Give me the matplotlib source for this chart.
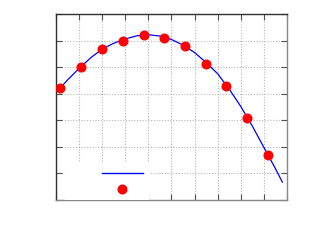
import matplotlib
matplotlib.use("Agg")
import matplotlib.pyplot as plt
from matplotlib.lines import Line2D

# measured points
pts_x = [0.17, 1.10, 1.99, 2.89, 3.79, 4.68, 5.59, 6.49, 7.38, 8.27, 9.19]
pts_y = [4.20, 5.01, 5.70, 6.00, 6.20, 6.10, 5.80, 5.11, 4.30, 3.10, 1.70]

# fitted curve
fit_x = [0.1, 0.5, 1.0, 1.5, 2.0, 2.5, 3.0, 3.5, 4.0, 4.5, 5.0, 5.5, 6.0,
         6.5, 7.0, 7.5, 8.0, 8.5, 9.0, 9.5, 9.8]
fit_y = [4.13, 4.52, 4.95, 5.35, 5.68, 5.90, 6.06, 6.18, 6.22, 6.17, 6.04,
         5.83, 5.55, 5.17, 4.75, 4.17, 3.52, 2.78, 1.98, 1.18, 0.67]

x_ticks = list(range(0, 11))
y_ticks = list(range(0, 8))

fig = plt.figure(figsize=(3.14, 2.49), dpi=100)
ax = fig.add_axes([56/314, 1-200/249, 231/314, 186/249])

ax.plot(fit_x, fit_y, color='#0000ff', lw=0.9, zorder=3)
ax.plot(pts_x, pts_y, 'o', color='#ff0000', ms=6.2, mec='#ff0000', zorder=4)

ax.set_xlim(0, 10)
ax.set_ylim(0, 7)
ax.set_xticks(x_ticks)
ax.set_yticks(y_ticks)
ax.set_xticklabels([])
ax.set_yticklabels([])
ax.grid(True, color='#b8b8b8', lw=0.8, ls=(0, (1, 1.5)))
ax.tick_params(direction='in', length=4, width=0.8, color='#505050',
               top=True, right=True)
for s in ['left', 'top']:
    ax.spines[s].set_color('#303030')
for s in ['right', 'bottom']:
    ax.spines[s].set_color('#888888')
for s in ax.spines.values():
    s.set_linewidth(1.0)

h1 = Line2D([], [], color='#0000ff', lw=1.0)
h2 = Line2D([], [], ls='none', marker='o', color='#ff0000', ms=6.2)
leg = ax.legend([h1, h2], [' ', ' '], loc='lower left', markerfirst=False,
                bbox_to_anchor=(9/231, 0.0), frameon=True, framealpha=1,
                facecolor='white', edgecolor='none', fancybox=False,
                handlelength=3.7, handletextpad=2.5, borderpad=0.5,
                labelspacing=0.5, fontsize=8, borderaxespad=0)
leg.set_zorder(5)

fig.savefig('out.png', dpi=100)
